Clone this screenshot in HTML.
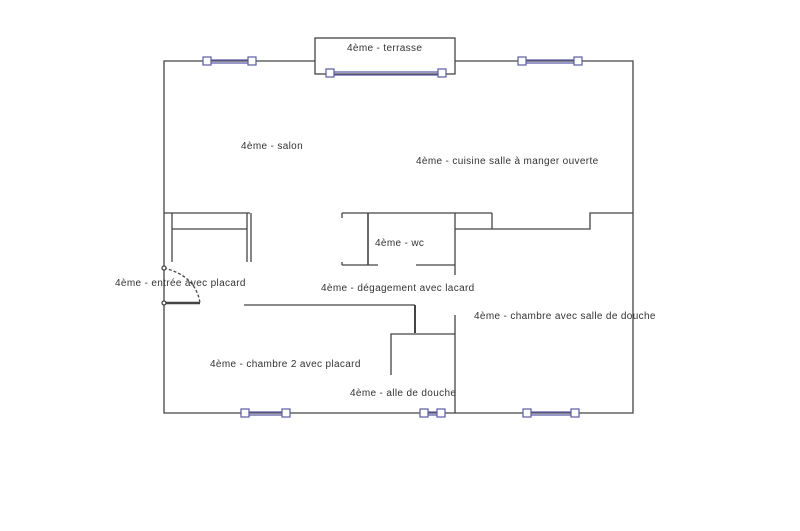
<!DOCTYPE html>
<html><head><style>body{margin:0;background:#fff}svg{display:block}text{font-family:"Liberation Sans",sans-serif;font-size:10px;letter-spacing:0.35px;fill:#333}</style></head><body>
<svg width="800" height="531" viewBox="0 0 800 531">
<g stroke="#444" stroke-width="1.3" fill="none">
<polyline points="315,61 164,61 164,413 633,413 633,61 455,61"/>
<rect x="315" y="38" width="140" height="36"/>
<polyline points="164,213 250,213"/>
<line x1="172" y1="213" x2="172" y2="262"/>
<line x1="172" y1="229" x2="247" y2="229"/>
<line x1="247" y1="213" x2="247" y2="262"/>
<line x1="251" y1="213" x2="251" y2="262"/>
<line x1="244" y1="305" x2="415" y2="305"/>
<line x1="415" y1="305" x2="415" y2="333" stroke-width="2"/>
<polyline points="391,375 391,334 455,334"/>
<line x1="455" y1="213" x2="455" y2="275"/>
<line x1="455" y1="315" x2="455" y2="413"/>
<line x1="342" y1="213" x2="492" y2="213"/>
<line x1="342" y1="213" x2="342" y2="218"/>
<line x1="342" y1="262" x2="342" y2="265"/>
<line x1="368" y1="213" x2="368" y2="265" stroke-width="1.6"/>
<line x1="342" y1="265" x2="378" y2="265"/>
<line x1="416" y1="265" x2="455" y2="265"/>
<polyline points="492,213 492,229"/>
<polyline points="455,229 590,229 590,213 633,213"/>
<line x1="164" y1="303" x2="200" y2="303" stroke-width="2.5"/>
<path d="M164,268 Q196,276 200,303" stroke-dasharray="3,2"/>
<circle cx="164" cy="268" r="2" fill="#fff"/>
<circle cx="164" cy="303" r="2" fill="#fff"/>
</g>
<g stroke="#5a5aa8" stroke-width="1.2" fill="#fff">
<line x1="207" y1="60" x2="252" y2="60"/><line x1="207" y1="63" x2="252" y2="63"/>
<line x1="522" y1="60" x2="578" y2="60"/><line x1="522" y1="63" x2="578" y2="63"/>
<line x1="330" y1="72" x2="442" y2="72"/><line x1="330" y1="75" x2="442" y2="75"/>
<line x1="245" y1="412" x2="286" y2="412"/><line x1="245" y1="415" x2="286" y2="415"/>
<line x1="424" y1="412" x2="441" y2="412"/><line x1="424" y1="415" x2="441" y2="415"/>
<line x1="527" y1="412" x2="575" y2="412"/><line x1="527" y1="415" x2="575" y2="415"/>
<rect x="203" y="57" width="8" height="8"/><rect x="248" y="57" width="8" height="8"/>
<rect x="518" y="57" width="8" height="8"/><rect x="574" y="57" width="8" height="8"/>
<rect x="326" y="69" width="8" height="8"/><rect x="438" y="69" width="8" height="8"/>
<rect x="241" y="409" width="8" height="8"/><rect x="282" y="409" width="8" height="8"/>
<rect x="420" y="409" width="8" height="8"/><rect x="437" y="409" width="8" height="8"/>
<rect x="523" y="409" width="8" height="8"/><rect x="571" y="409" width="8" height="8"/>
</g>
<text x="347" y="51">4ème - terrasse</text>
<text x="241" y="149">4ème - salon</text>
<text x="416" y="164">4ème - cuisine salle à manger ouverte</text>
<text x="375" y="246">4ème - wc</text>
<text x="115" y="286">4ème - entrée avec placard</text>
<text x="321" y="291">4ème - dégagement avec  lacard</text>
<text x="474" y="319">4ème - chambre avec salle de douche</text>
<text x="210" y="367">4ème - chambre 2 avec placard</text>
<text x="350" y="396">4ème -   alle de douche</text>
</svg>
</body></html>
